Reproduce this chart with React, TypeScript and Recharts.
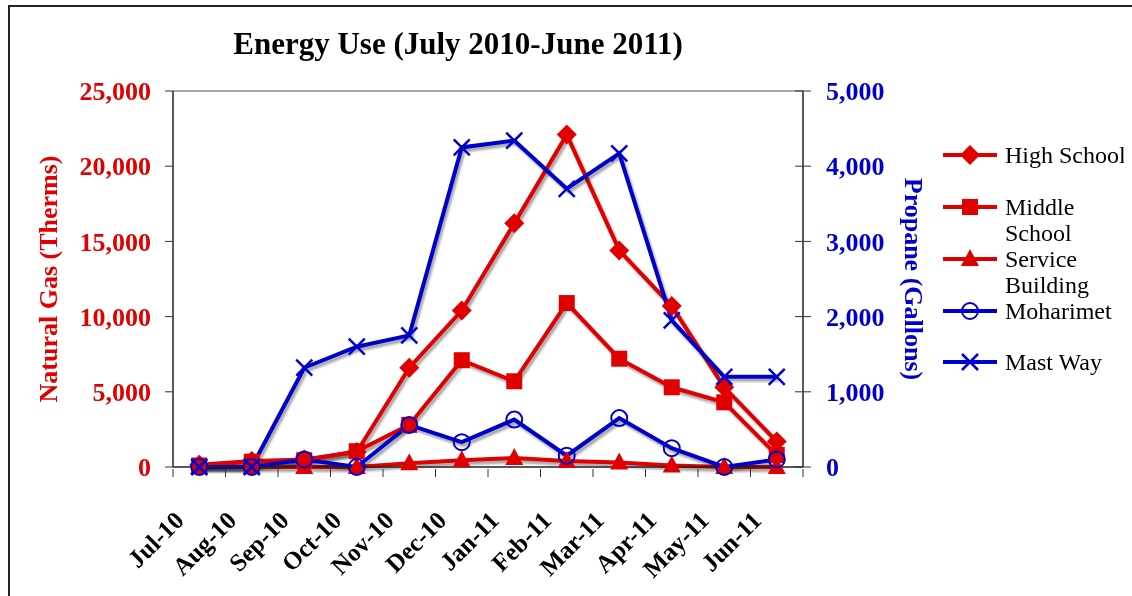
import { LineChart, Line, XAxis, YAxis, ReferenceLine } from "recharts";

const RED = "#e00000";
const BLUE = "#0000cc";
const FONT = '"Liberation Serif", "Times New Roman", serif';

const months = [
  "Jul-10", "Aug-10", "Sep-10", "Oct-10", "Nov-10", "Dec-10",
  "Jan-11", "Feb-11", "Mar-11", "Apr-11", "May-11", "Jun-11",
];

// natural gas, therms (left axis)
const highSchool = [150, 400, 500, 1000, 6600, 10400, 16200, 22100, 14400, 10700, 5300, 1700];
const middleSchool = [100, 350, 450, 1050, 2800, 7100, 5700, 10900, 7200, 5300, 4300, 800];
const serviceBuilding = [0, 0, 0, 0, 250, 450, 600, 400, 300, 100, 0, 0];

// propane, gallons (right axis)
const moharimet = [0, 0, 100, 0, 560, 330, 630, 150, 650, 250, 0, 100];
const mastWay = [0, 0, 1320, 1600, 1750, 4250, 4340, 3700, 4170, 1950, 1200, 1200];

const gasTicks = [0, 5000, 10000, 15000, 20000, 25000];
const propaneTicks = [0, 1000, 2000, 3000, 4000, 5000];

const data = months.map((m, i) => ({
  month: m,
  hs: highSchool[i],
  ms: middleSchool[i],
  sb: serviceBuilding[i],
  mo: moharimet[i],
  mw: mastWay[i],
}));

const series = [
  { key: "hs", name: "High School", color: RED, shape: "diamond", axis: "left" },
  { key: "ms", name: "Middle School", color: RED, shape: "square", axis: "left" },
  { key: "sb", name: "Service Building", color: RED, shape: "triangle", axis: "left" },
  { key: "mo", name: "Moharimet", color: BLUE, shape: "circle", axis: "right" },
  { key: "mw", name: "Mast Way", color: BLUE, shape: "cross", axis: "right" },
];

function Marker({ shape, x, y, color }: any) {
  if (shape === "diamond")
    return <polygon points={`${x},${y - 10} ${x + 10},${y} ${x},${y + 10} ${x - 10},${y}`} fill={color} />;
  if (shape === "square") return <rect x={x - 8} y={y - 8} width={16} height={16} fill={color} />;
  if (shape === "triangle")
    return <polygon points={`${x},${y - 10} ${x + 9},${y + 7} ${x - 9},${y + 7}`} fill={color} />;
  if (shape === "circle") return <circle cx={x} cy={y} r={8} fill="none" stroke={color} strokeWidth={2} />;
  return (
    <g stroke={color} strokeWidth={2.5}>
      <line x1={x - 8} y1={y - 8} x2={x + 8} y2={y + 8} />
      <line x1={x - 8} y1={y + 8} x2={x + 8} y2={y - 8} />
    </g>
  );
}

const makeDot = (shape: string, color: string) => (props: any) => {
  const { cx, cy, index } = props;
  if (cx == null || cy == null) return <g key={index} />;
  return <Marker key={index} shape={shape} x={cx} y={cy} color={color} />;
};

const fmt = (v: number) => v.toLocaleString("en-US");

const LeftTick = ({ x, y, payload }: any) => (
  <g>
    <line x1={x - 8} y1={y} x2={x} y2={y} stroke="#333" />
    <text x={x - 22} y={y} dy="0.35em" textAnchor="end" fill={RED} fontSize={26} fontWeight="bold" fontFamily={FONT}>
      {fmt(payload.value)}
    </text>
  </g>
);

const RightTick = ({ x, y, payload }: any) => (
  <g>
    <line x1={x - 8} y1={y} x2={x + 8} y2={y} stroke="#333" />
    <text x={x + 23} y={y} dy="0.35em" textAnchor="start" fill={BLUE} fontSize={26} fontWeight="bold" fontFamily={FONT}>
      {fmt(payload.value)}
    </text>
  </g>
);

const PLOT_W = 630;
const BAND = PLOT_W / months.length;

const MonthTick = ({ x, y, payload, index }: any) => {
  const ax = x - 14;
  const ay = y + 53;
  return (
    <g>
      <line x1={x - BAND / 2} y1={y} x2={x - BAND / 2} y2={y + 8} stroke="#333" />
      {index === months.length - 1 && (
        <line x1={x + BAND / 2} y1={y} x2={x + BAND / 2} y2={y + 8} stroke="#333" />
      )}
      <text
        x={ax}
        y={ay}
        textAnchor="end"
        transform={`rotate(-45, ${ax}, ${ay})`}
        fontSize={25}
        fontWeight="bold"
        fontFamily={FONT}
        fill="#000"
      >
        {payload.value}
      </text>
    </g>
  );
};

const leftLabel = (props: any) => {
  const vb = props.viewBox;
  const cy = vb.y + vb.height / 2;
  return (
    <text x={40} y={cy} transform={`rotate(-90, 40, ${cy})`} dy="0.35em" textAnchor="middle" fill={RED} fontSize={26} fontWeight="bold" fontFamily={FONT}>
      Natural Gas (Therms)
    </text>
  );
};

const rightLabel = (props: any) => {
  const vb = props.viewBox;
  const cy = vb.y + vb.height / 2;
  const x = 906;
  return (
    <text x={x} y={cy} transform={`rotate(90, ${x}, ${cy})`} dy="0.35em" textAnchor="middle" fill={BLUE} fontSize={26} fontWeight="bold" fontFamily={FONT}>
      Propane (Gallons)
    </text>
  );
};

const legendRows = [
  { s: series[0], lines: ["High School"], y: 155 },
  { s: series[1], lines: ["Middle", "School"], y: 207 },
  { s: series[2], lines: ["Service", "Building"], y: 259 },
  { s: series[3], lines: ["Moharimet"], y: 311 },
  { s: series[4], lines: ["Mast Way"], y: 362 },
];

export default function App() {
  return (
    <div style={{ position: "relative", width: 1124, height: 588 }}>
      <style>{`.shadowed { filter: drop-shadow(2px 3px 1.2px rgba(0,0,0,0.35)); }`}</style>
      <div style={{ position: "fixed", left: 8, top: 5, width: 1300, height: 800, border: "2px solid #222", boxSizing: "border-box" }} />
      <div
        style={{
          position: "absolute",
          left: 0,
          top: 18,
          width: 900,
          textAlign: "center",
          fontFamily: FONT,
          fontWeight: "bold",
          fontSize: 31,
          color: "#000",
        }}
      >
        Energy Use (July 2010-June 2011)
      </div>
      <LineChart width={1124} height={588} data={data} margin={{ top: 83, right: 0, left: 0, bottom: 0 }}>
        <XAxis
          dataKey="month"
          height={129}
          padding={{ left: BAND / 2, right: BAND / 2 }}
          tickSize={0}
          tickLine={false}
          stroke="#222"
          strokeWidth={1.5}
          tick={MonthTick}
          interval={0}
        />
        <YAxis
          yAxisId="left"
          width={165}
          domain={[0, 25000]}
          ticks={gasTicks}
          tickSize={0}
          tickMargin={0}
          tickLine={false}
          stroke="#222"
          strokeWidth={1.5}
          tick={LeftTick}
          label={leftLabel}
        />
        <YAxis
          yAxisId="right"
          orientation="right"
          width={329}
          domain={[0, 5000]}
          ticks={propaneTicks}
          tickSize={0}
          tickMargin={0}
          tickLine={false}
          stroke="#222"
          strokeWidth={1.5}
          tick={RightTick}
          label={rightLabel}
        />
        <ReferenceLine yAxisId="left" y={25000} stroke="#888" strokeWidth={1.5} />
        {series.map((s) => (
          <Line
            key={s.key}
            className="shadowed"
            yAxisId={s.axis}
            dataKey={s.key}
            name={s.name}
            stroke={s.color}
            strokeWidth={4}
            dot={makeDot(s.shape, s.color)}
            activeDot={false}
            isAnimationActive={false}
          />
        ))}
      </LineChart>
      <svg style={{ position: "absolute", left: 925, top: 0 }} width={199} height={420}>
        {legendRows.map((r) => (
          <g key={r.s.key}>
            <line x1={10} y1={r.y - 8} x2={64} y2={r.y - 8} stroke={r.s.color} strokeWidth={4} />
            <Marker shape={r.s.shape} x={37} y={r.y - 8} color={r.s.color} />
            {r.lines.map((t, i) => (
              <text key={t} x={72} y={r.y - 8 + i * 26} dy="0.35em" fontSize={24} fontFamily={FONT} fill="#000">
                {t}
              </text>
            ))}
          </g>
        ))}
      </svg>
    </div>
  );
}
